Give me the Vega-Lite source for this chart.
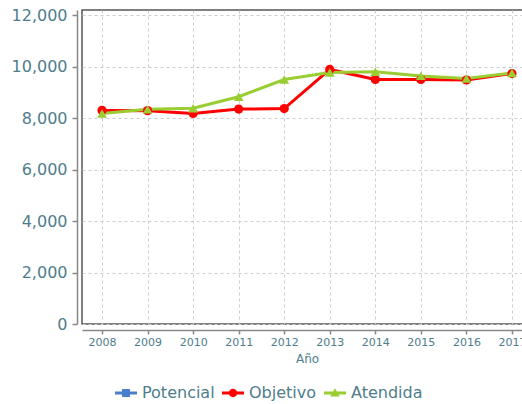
{
  "$schema": "https://vega.github.io/schema/vega-lite/v6.json",
  "width": 450,
  "height": 314,
  "autosize": {"type": "none"},
  "padding": {"left": 82, "top": 10, "right": 0, "bottom": 80},
  "config": {
    "font": "DejaVu Sans",
    "view": {"stroke": "#555", "strokeWidth": 1.5},
    "axis": {
      "labelColor": "#4e7d8c",
      "titleColor": "#4e7d8c",
      "domainColor": "#888",
      "domainWidth": 1.5,
      "tickColor": "#888",
      "tickWidth": 1.5,
      "gridColor": "#cccccc",
      "gridDash": [3, 3],
      "gridWidth": 1
    },
    "legend": {
      "title": null,
      "orient": "none",
      "direction": "horizontal",
      "legendX": 33,
      "legendY": 372,
      "labelFontSize": 16,
      "labelColor": "#4e7d8c",
      "symbolSize": 484,
      "labelOffset": 5,
      "columnPadding": 7,
      "symbolStrokeWidth": 0
    }
  },
  "data": {
    "values": [
      {"anio": "2008", "serie": "Objetivo", "valor": 8300},
      {"anio": "2009", "serie": "Objetivo", "valor": 8290},
      {"anio": "2010", "serie": "Objetivo", "valor": 8180},
      {"anio": "2011", "serie": "Objetivo", "valor": 8350},
      {"anio": "2012", "serie": "Objetivo", "valor": 8370},
      {"anio": "2013", "serie": "Objetivo", "valor": 9890},
      {"anio": "2014", "serie": "Objetivo", "valor": 9500},
      {"anio": "2015", "serie": "Objetivo", "valor": 9500},
      {"anio": "2016", "serie": "Objetivo", "valor": 9480},
      {"anio": "2017", "serie": "Objetivo", "valor": 9730},
      {"anio": "2008", "serie": "Atendida", "valor": 8180},
      {"anio": "2009", "serie": "Atendida", "valor": 8340},
      {"anio": "2010", "serie": "Atendida", "valor": 8380},
      {"anio": "2011", "serie": "Atendida", "valor": 8830},
      {"anio": "2012", "serie": "Atendida", "valor": 9500},
      {"anio": "2013", "serie": "Atendida", "valor": 9770},
      {"anio": "2014", "serie": "Atendida", "valor": 9800},
      {"anio": "2015", "serie": "Atendida", "valor": 9640},
      {"anio": "2016", "serie": "Atendida", "valor": 9540},
      {"anio": "2017", "serie": "Atendida", "valor": 9750}
    ]
  },
  "encoding": {
    "x": {
      "field": "anio",
      "type": "ordinal",
      "sort": null,
      "scale": {"type": "point", "padding": 0.44},
      "axis": {
        "title": "Año",
        "labelAngle": 0,
        "labelFontSize": 11,
        "titleFontSize": 12,
        "titleFontWeight": "normal",
        "titlePadding": 6,
        "offset": 6,
        "tickSize": 4,
        "labelPadding": 2,
        "grid": true
      }
    },
    "y": {
      "field": "valor",
      "type": "quantitative",
      "scale": {"domain": [0, 12200], "nice": false},
      "axis": {
        "title": null,
        "values": [0, 2000, 4000, 6000, 8000, 10000, 12000],
        "format": ",d",
        "labelFontSize": 16,
        "offset": 5,
        "tickSize": 5,
        "labelPadding": 5,
        "grid": true
      }
    },
    "color": {
      "field": "serie",
      "type": "nominal",
      "scale": {
        "domain": ["Potencial", "Objetivo", "Atendida"],
        "range": ["#4a7fd0", "#ff0000", "#9acd32"]
      },
      "legend": {}
    }
  },
  "layer": [
    {"mark": {"type": "line", "strokeWidth": 3}},
    {
      "transform": [{"filter": "datum.serie === 'Objetivo'"}],
      "mark": {"type": "point", "filled": true, "opacity": 1, "size": 85, "shape": "circle"}
    },
    {
      "transform": [{"filter": "datum.serie === 'Atendida'"}],
      "mark": {"type": "point", "filled": true, "opacity": 1, "size": 95, "shape": "triangle-up"}
    },
    {
      "transform": [{"filter": "false"}],
      "mark": {"type": "point", "filled": true, "opacity": 1},
      "encoding": {
        "shape": {
          "field": "serie",
          "type": "nominal",
          "scale": {
            "domain": ["Potencial", "Objetivo", "Atendida"],
            "range": [
              "M-1,-0.14H1V0.14H-1Z M-0.36,-0.36H0.36V0.36H-0.36Z",
              "M-1,-0.14H1V0.14H-1Z M-0.38,0A0.38,0.38,0,1,1,0.38,0A0.38,0.38,0,1,1,-0.38,0Z",
              "M-1,-0.14H1V0.14H-1Z M0,-0.44L0.44,0.32H-0.44Z"
            ]
          },
          "legend": {}
        }
      }
    }
  ]
}
